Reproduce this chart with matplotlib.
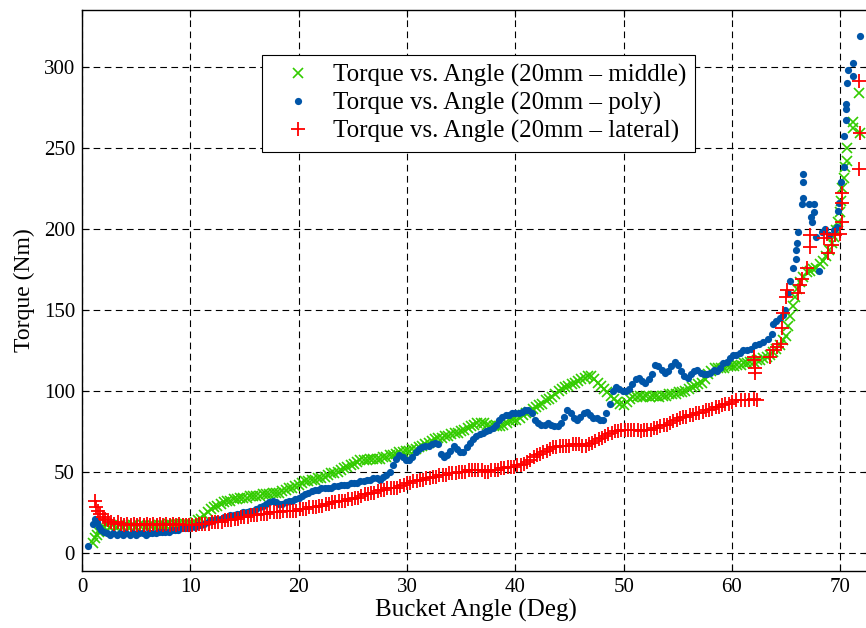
import matplotlib
matplotlib.use("Agg")
import matplotlib.pyplot as plt

# ---- data: Torque vs. Angle ----
middle_x = [1.0, 1.2, 1.4, 1.6, 1.8, 2.0, 2.3, 2.6, 2.9, 3.2, 3.5, 3.8, 4.1, 4.4, 4.7, 5.0, 5.3, 5.6, 5.9, 6.2,
            6.5, 6.8, 7.1, 7.4, 7.7, 8.0, 8.3, 8.6, 8.9, 9.2, 9.5, 9.8, 10.1, 10.4, 10.7, 11.0, 11.3, 11.6, 11.9, 12.2,
            12.5, 12.8, 13.1, 13.4, 13.7, 14.0, 14.3, 14.6, 14.9, 15.2, 15.5, 15.8, 16.1, 16.4, 16.7, 17.0, 17.3, 17.6, 17.9, 18.2,
            18.5, 18.8, 19.1, 19.4, 19.7, 20.0, 20.3, 20.6, 20.9, 21.2, 21.5, 21.8, 22.1, 22.4, 22.7, 23.0, 23.3, 23.6, 23.9, 24.2,
            24.5, 24.8, 25.1, 25.4, 25.7, 26.0, 26.3, 26.6, 26.9, 27.2, 27.5, 27.8, 28.1, 28.4, 28.7, 29.0, 29.3, 29.6, 29.9, 30.2,
            30.5, 30.8, 31.1, 31.4, 31.7, 32.0, 32.3, 32.6, 32.9, 33.2, 33.5, 33.8, 34.1, 34.4, 34.7, 35.0, 35.3, 35.6, 35.9, 36.2,
            36.5, 36.8, 37.1, 37.4, 37.7, 38.0, 38.3, 38.6, 38.9, 39.2, 39.5, 39.8, 40.1, 40.4, 40.7, 41.0, 41.3, 41.6, 41.9, 42.2,
            42.5, 42.8, 43.1, 43.4, 43.7, 44.0, 44.3, 44.6, 44.9, 45.2, 45.5, 45.8, 46.1, 46.4, 46.7, 47.0, 47.3, 47.6, 47.9, 48.2,
            48.5, 48.8, 49.1, 49.4, 49.7, 50.0, 50.3, 50.6, 50.9, 51.2, 51.5, 51.8, 52.1, 52.4, 52.7, 53.0, 53.3, 53.6, 53.9, 54.2,
            54.5, 54.8, 55.1, 55.4, 55.7, 56.0, 56.3, 56.6, 56.9, 57.2, 57.5, 57.8, 58.1, 58.4, 58.7, 59.0, 59.3, 59.6, 59.9, 60.2,
            60.5, 60.8, 61.1, 61.4, 61.7, 62.0, 62.3, 62.6, 62.9, 63.2, 63.5, 63.8, 64.1, 64.4, 64.7, 65.0, 65.2, 65.4, 65.6, 65.8,
            66.0, 66.3, 66.6, 66.9, 67.2, 67.5, 67.8, 68.1, 68.4, 68.7, 69.0, 69.2, 69.4, 69.6, 69.8, 70.0, 70.1, 70.2, 70.3, 70.4,
            70.6, 70.6, 71.2, 71.2, 71.8, 71.7]
middle_y = [6, 9, 11, 13, 15, 16, 17, 16, 17, 16, 17, 16, 17, 16, 17, 16, 17, 17, 16, 17,
            17, 16, 17, 17, 17, 18, 17, 18, 18, 18, 18, 18, 18, 19, 20, 21, 23, 25, 27, 28,
            29, 30, 31, 32, 32, 33, 33, 34, 34, 34, 35, 35, 35, 35, 36, 36, 36, 37, 37, 37,
            38, 39, 40, 40, 41, 42, 43, 44, 44, 45, 45, 46, 46, 47, 48, 49, 49, 50, 51, 52,
            53, 54, 55, 56, 57, 57, 57, 58, 58, 58, 58, 59, 59, 60, 60, 61, 62, 62, 63, 63,
            64, 64, 65, 66, 67, 68, 69, 70, 71, 71, 72, 72, 73, 74, 74, 75, 76, 77, 78, 79,
            80, 80, 80, 79, 78, 78, 78, 78, 79, 80, 81, 82, 82, 83, 85, 86, 87, 89, 90, 91,
            92, 94, 95, 96, 98, 100, 101, 102, 103, 104, 105, 106, 107, 108, 109, 109, 107, 105, 103, 101,
            99, 97, 95, 93, 92, 91, 93, 95, 96, 96, 97, 96, 97, 96, 97, 97, 96, 97, 97, 98,
            98, 98, 99, 99, 100, 101, 102, 103, 104, 105, 107, 110, 112, 114, 114, 114, 114, 115, 115, 115,
            116, 116, 117, 117, 118, 118, 119, 119, 120, 121, 122, 124, 126, 128, 131, 134, 140, 146, 152, 158,
            163, 167, 170, 173, 174, 175, 176, 178, 180, 183, 187, 191, 195, 199, 204, 210, 217, 225, 231, 238,
            242, 250, 262, 266, 259, 284]

poly_x = [0.6, 1.0, 1.2, 1.4, 1.6, 1.8, 2.0, 2.3, 2.6, 2.9, 3.2, 3.5, 3.8, 4.1, 4.4, 4.7, 5.0, 5.3, 5.6, 5.9,
          6.2, 6.5, 6.8, 7.1, 7.4, 7.7, 8.0, 8.3, 8.6, 8.9, 9.2, 9.5, 9.8, 10.1, 10.4, 10.7, 11.0, 11.3, 11.6, 11.9,
          12.2, 12.5, 12.8, 13.1, 13.4, 13.7, 14.0, 14.3, 14.6, 14.9, 15.2, 15.5, 15.8, 16.1, 16.4, 16.7, 17.0, 17.3, 17.6, 17.9,
          18.2, 18.5, 18.8, 19.1, 19.4, 19.7, 20.0, 20.3, 20.6, 20.9, 21.2, 21.5, 21.8, 22.1, 22.4, 22.7, 23.0, 23.3, 23.6, 23.9,
          24.2, 24.5, 24.8, 25.1, 25.4, 25.7, 26.0, 26.3, 26.6, 26.9, 27.2, 27.5, 27.8, 28.1, 28.4, 28.7, 29.0, 29.3, 29.6, 29.9,
          30.2, 30.5, 30.8, 31.1, 31.4, 31.7, 32.0, 32.3, 32.6, 32.9, 33.1, 33.4, 33.7, 34.0, 34.3, 34.6, 34.9, 35.2, 35.5, 35.8,
          36.1, 36.4, 36.7, 37.0, 37.3, 37.6, 37.9, 38.2, 38.5, 38.8, 39.1, 39.4, 39.7, 40.0, 40.3, 40.6, 40.9, 41.2, 41.5, 41.8,
          42.1, 42.4, 42.7, 43.0, 43.3, 43.6, 43.9, 44.2, 44.5, 44.8, 45.1, 45.4, 45.7, 46.0, 46.3, 46.6, 46.9, 47.2, 47.5, 47.8,
          48.1, 48.4, 48.7, 49.0, 49.3, 49.6, 49.9, 50.2, 50.5, 50.8, 51.1, 51.4, 51.7, 52.0, 52.3, 52.6, 52.9, 53.2, 53.5, 53.8,
          54.1, 54.4, 54.7, 55.0, 55.3, 55.6, 55.9, 56.2, 56.5, 56.8, 57.1, 57.4, 57.7, 58.0, 58.3, 58.6, 58.9, 59.2, 59.5, 59.8,
          60.1, 60.4, 60.7, 61.0, 61.4, 61.8, 62.1, 62.5, 62.9, 63.3, 63.7, 63.8, 64.1, 64.4, 64.7, 64.9, 65.2, 65.4, 65.6, 65.9,
          65.9, 66.0, 66.1, 66.5, 66.6, 66.6, 66.6, 67.1, 67.6, 67.6, 67.3, 67.4, 67.8, 68.0, 68.3, 68.6, 69.0, 69.4, 69.7, 69.8,
          69.9, 70.1, 70.3, 70.3, 70.5, 70.5, 70.5, 70.6, 70.7, 71.2, 71.2, 71.8]
poly_y = [4, 18, 21, 19, 16, 14, 13, 12, 11, 12, 11, 12, 11, 12, 11, 12, 11, 12, 12, 11,
          12, 12, 12, 13, 13, 13, 13, 14, 14, 14, 15, 15, 15, 16, 16, 17, 17, 18, 19, 20,
          20, 21, 21, 22, 22, 23, 23, 24, 24, 25, 25, 26, 26, 27, 28, 29, 30, 31, 32, 31,
          30, 30, 31, 32, 32, 33, 34, 35, 36, 37, 38, 39, 39, 40, 40, 40, 40, 41, 41, 42,
          42, 42, 43, 43, 43, 44, 44, 45, 45, 46, 46, 45, 47, 48, 50, 54, 58, 60, 59, 57,
          57, 59, 62, 64, 65, 66, 66, 67, 68, 67, 61, 59, 60, 63, 66, 64, 62, 62, 65, 68,
          70, 72, 73, 74, 75, 76, 77, 79, 82, 84, 85, 85, 86, 86, 86, 87, 88, 88, 86, 82,
          80, 79, 79, 80, 79, 78, 78, 80, 84, 88, 86, 83, 82, 84, 86, 87, 85, 83, 83, 82,
          82, 86, 92, 100, 102, 101, 100, 100, 101, 104, 107, 108, 106, 105, 107, 110, 116, 115, 113, 111,
          112, 115, 118, 116, 112, 109, 108, 110, 112, 113, 111, 110, 110, 111, 113, 112, 114, 117, 118, 120,
          122, 122, 123, 125, 125, 126, 128, 129, 130, 132, 135, 141, 143, 145, 147, 150, 160, 168, 176, 181,
          187, 191, 198, 215, 219, 229, 234, 215, 215, 210, 207, 204, 195, 174, 198, 200, 196, 199, 201, 211,
          216, 229, 238, 257, 267, 274, 277, 290, 298, 294, 302, 319]

lateral_x = [1.2, 1.3, 1.5, 1.7, 1.9, 2.1, 2.4, 2.7, 3.0, 3.3, 3.6, 3.9, 4.2, 4.5, 4.8, 5.1, 5.4, 5.7, 6.0, 6.3,
             6.6, 6.9, 7.2, 7.5, 7.8, 8.1, 8.4, 8.7, 9.0, 9.3, 9.6, 9.9, 10.2, 10.5, 10.8, 11.1, 11.4, 11.7, 12.0, 12.3,
             12.6, 12.9, 13.2, 13.5, 13.8, 14.1, 14.4, 14.7, 15.0, 15.3, 15.6, 15.9, 16.2, 16.5, 16.8, 17.1, 17.4, 17.7, 18.0, 18.3,
             18.6, 18.9, 19.2, 19.5, 19.8, 20.1, 20.4, 20.7, 21.0, 21.3, 21.6, 21.9, 22.2, 22.5, 22.8, 23.1, 23.4, 23.7, 24.0, 24.3,
             24.6, 24.9, 25.2, 25.5, 25.8, 26.1, 26.4, 26.7, 27.0, 27.3, 27.6, 27.9, 28.2, 28.5, 28.8, 29.1, 29.4, 29.7, 30.0, 30.3,
             30.6, 30.9, 31.2, 31.5, 31.8, 32.1, 32.4, 32.7, 33.0, 33.3, 33.6, 33.9, 34.2, 34.5, 34.8, 35.1, 35.4, 35.7, 36.0, 36.3,
             36.6, 36.9, 37.2, 37.5, 37.8, 38.1, 38.4, 38.7, 39.0, 39.3, 39.6, 39.9, 40.2, 40.5, 40.8, 41.1, 41.4, 41.7, 42.0, 42.3,
             42.6, 42.9, 43.2, 43.5, 43.8, 44.1, 44.4, 44.7, 45.0, 45.3, 45.6, 45.9, 46.2, 46.5, 46.8, 47.1, 47.4, 47.7, 48.0, 48.3,
             48.6, 48.9, 49.2, 49.5, 49.8, 50.1, 50.4, 50.7, 51.0, 51.3, 51.6, 51.9, 52.2, 52.5, 52.8, 53.1, 53.4, 53.7, 54.0, 54.3,
             54.6, 54.9, 55.2, 55.5, 55.8, 56.1, 56.4, 56.7, 57.0, 57.3, 57.6, 57.9, 58.2, 58.5, 58.8, 59.1, 59.4, 59.7, 60.0, 60.4,
             60.8, 61.2, 61.6, 62.0, 62.3, 62.0, 62.0, 62.1, 62.1, 63.5, 63.8, 64.2, 64.5, 64.6, 64.7, 65.0, 65.1, 66.1, 66.3, 66.5,
             66.9, 67.2, 67.2, 68.5, 68.8, 68.9, 69.2, 69.5, 70.0, 70.2, 70.2, 70.2, 71.7, 71.8, 71.7]
lateral_y = [32, 28, 26, 24, 22, 21, 20, 19, 18, 19, 18, 17, 18, 17, 18, 17, 18, 17, 18, 17,
             18, 17, 18, 17, 18, 17, 18, 17, 18, 17, 17, 17, 17, 17, 18, 18, 18, 18, 19, 19,
             19, 19, 20, 20, 20, 21, 21, 22, 22, 22, 23, 23, 23, 24, 24, 24, 25, 25, 25, 25,
             26, 26, 26, 26, 26, 27, 27, 27, 28, 28, 28, 29, 29, 30, 30, 31, 31, 32, 32, 32,
             33, 33, 34, 34, 35, 36, 36, 37, 37, 38, 39, 39, 40, 40, 40, 40, 41, 42, 43, 43,
             44, 44, 45, 45, 46, 46, 47, 47, 48, 48, 48, 49, 49, 49, 50, 50, 50, 51, 51, 51,
             51, 51, 50, 50, 51, 51, 51, 52, 52, 53, 53, 53, 54, 54, 55, 56, 57, 59, 60, 61,
             62, 63, 64, 65, 65, 66, 66, 66, 66, 67, 67, 67, 66, 66, 67, 68, 69, 70, 71, 72,
             73, 74, 75, 75, 76, 76, 76, 76, 76, 76, 75, 76, 76, 76, 77, 77, 78, 79, 79, 80,
             81, 82, 83, 84, 84, 85, 85, 86, 86, 87, 88, 88, 89, 90, 90, 91, 92, 92, 93, 94,
             94, 94, 94, 95, 94, 119, 121, 111, 114, 121, 125, 127, 129, 139, 148, 158, 162, 160, 165, 169,
             176, 189, 196, 194, 197, 185, 190, 196, 197, 204, 216, 222, 237, 259, 291]

labels = ["Torque vs. Angle (20mm \u2013 middle)",
          "Torque vs. Angle (20mm \u2013 poly)",
          "Torque vs. Angle (20mm \u2013 lateral)"]
x_ticks = [0, 10, 20, 30, 40, 50, 60, 70]
y_ticks = [0, 50, 100, 150, 200, 250, 300]

plt.rcParams['font.family'] = ['Liberation Serif', 'DejaVu Serif']

W, H = 866, 628
fig = plt.figure(figsize=(W / 100, H / 100), dpi=100)
left_px, right_px, top_px, bot_px = 82, 870, 10, 571
ax = fig.add_axes([left_px / W, 1 - bot_px / H, (right_px - left_px) / W, (bot_px - top_px) / H])

green = '#33cc00'
blue = '#0055a8'
red = '#ff0000'

ax.plot(middle_x, middle_y, linestyle='none', marker='x', color=green, markersize=7.5, markeredgewidth=1.2, label=labels[0])
ax.plot(poly_x, poly_y, linestyle='none', marker='o', color=blue, markersize=5.2, markeredgewidth=0, label=labels[1])
ax.plot(lateral_x, lateral_y, linestyle='none', marker='+', color=red, markersize=9.5, markeredgewidth=1.3, label=labels[2])

ax.set_xlim(0, (right_px - left_px) / 10.833)
ax.set_ylim(-11.3, 335)
ax.set_xticks(x_ticks)
ax.set_yticks(y_ticks)
ax.tick_params(direction='in', top=True, right=True, length=5, width=0.8, labelsize=15, pad=5)
ax.grid(True, color='black', linestyle=(0, (6, 4)), linewidth=0.8)
for s in ax.spines.values():
    s.set_linewidth(1.0)

ax.set_xlabel("Bucket Angle (Deg)", fontsize=18, labelpad=1.5)
ax.set_ylabel("Torque (Nm)", fontsize=17, labelpad=6)

leg = ax.legend(loc='upper left', bbox_to_anchor=(262 / W, 1 - 55 / H), bbox_transform=fig.transFigure,
                borderaxespad=0, fontsize=18, frameon=True, fancybox=False, framealpha=1,
                edgecolor='black', handlelength=2.2, handletextpad=0.3, labelspacing=0.2, borderpad=0.35)
leg.get_frame().set_linewidth(0.8)

fig.savefig('out.png', dpi=100)
